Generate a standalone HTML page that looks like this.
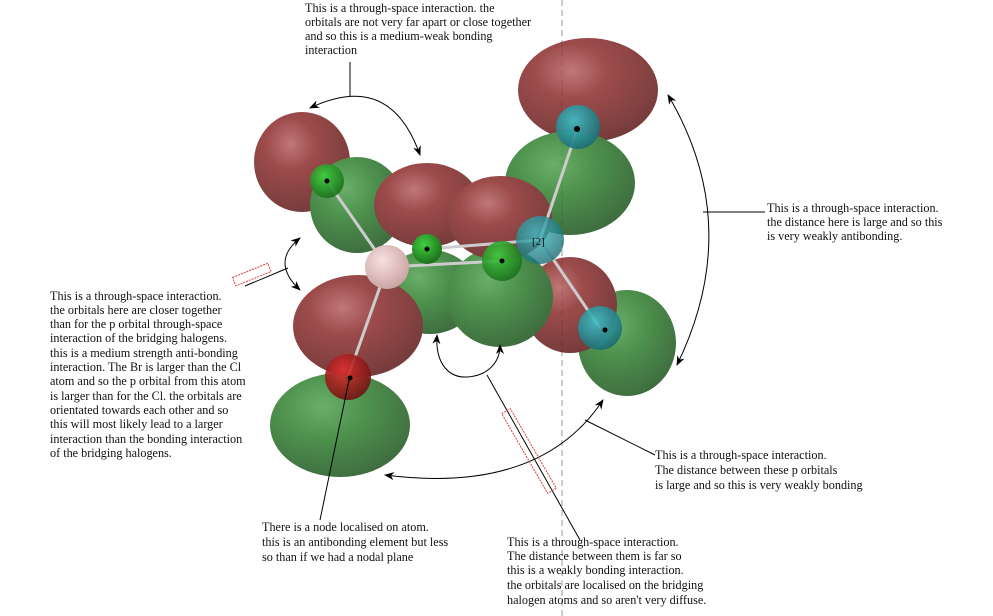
<!DOCTYPE html>
<html><head><meta charset="utf-8"><style>
html,body{margin:0;padding:0;background:#fff;}
svg{display:block;}
text{font-family:"Liberation Serif",serif;font-size:12.2px;fill:#111;}
</style></head><body>
<svg width="993" height="616" viewBox="0 0 993 616" xmlns="http://www.w3.org/2000/svg">
<defs>
<radialGradient id="r" cx="0.38" cy="0.32" r="0.75">
<stop offset="0" stop-color="#b46060"/><stop offset="0.35" stop-color="#8c2c2c"/><stop offset="1" stop-color="#5a1818"/></radialGradient>
<radialGradient id="g" cx="0.38" cy="0.32" r="0.75">
<stop offset="0" stop-color="#4fa04f"/><stop offset="0.4" stop-color="#2f7f2f"/><stop offset="1" stop-color="#1c4f1c"/></radialGradient>
<radialGradient id="ga" cx="0.4" cy="0.35" r="0.7"><stop offset="0" stop-color="#3fd03f"/><stop offset="1" stop-color="#1a6a1a"/></radialGradient>
<radialGradient id="ca" cx="0.4" cy="0.35" r="0.7"><stop offset="0" stop-color="#40c0c8"/><stop offset="1" stop-color="#1a6870"/></radialGradient>
<radialGradient id="pa" cx="0.4" cy="0.35" r="0.7"><stop offset="0" stop-color="#f8e0e0"/><stop offset="1" stop-color="#c8a0a0"/></radialGradient>
<radialGradient id="ra" cx="0.4" cy="0.35" r="0.7"><stop offset="0" stop-color="#e03030"/><stop offset="1" stop-color="#6a1010"/></radialGradient>
<marker id="ah" markerWidth="10" markerHeight="8" refX="9" refY="4" orient="auto-start-reverse" markerUnits="userSpaceOnUse"><path d="M0,0 L10,4 L0,8 L3,4 z" fill="#000"/></marker>
</defs>
<line x1="562" y1="0" x2="562" y2="616" stroke="#999" stroke-dasharray="6,4" stroke-width="1"/>
<g opacity="0.85">
<ellipse cx="588" cy="90" rx="70" ry="52" fill="url(#r)"/>
<ellipse cx="302" cy="162" rx="48" ry="50" fill="url(#r)"/>
<ellipse cx="570" cy="183" rx="65" ry="52" fill="url(#g)"/>
<ellipse cx="357" cy="205" rx="47" ry="48" fill="url(#g)"/>
<ellipse cx="340" cy="425" rx="70" ry="52" fill="url(#g)"/>
<ellipse cx="627" cy="343" rx="49" ry="53" fill="url(#g)"/>
<ellipse cx="570" cy="305" rx="47" ry="48" fill="url(#r)"/>
<ellipse cx="430" cy="292" rx="48" ry="42" fill="url(#g)"/>
<ellipse cx="500" cy="297" rx="53" ry="50" fill="url(#g)"/>
<ellipse cx="358" cy="326" rx="65" ry="51" fill="url(#r)"/>
<ellipse cx="427" cy="205" rx="53" ry="42" fill="url(#r)"/>
<ellipse cx="500" cy="218" rx="52" ry="42" fill="url(#r)"/>
</g>
<g stroke="#ccc" stroke-width="3">
<line x1="327" y1="181" x2="387" y2="267"/><line x1="387" y1="267" x2="348" y2="377"/>
<line x1="387" y1="267" x2="502" y2="261"/><line x1="427" y1="249" x2="540" y2="240"/>
<line x1="578" y1="127" x2="540" y2="240"/><line x1="540" y1="240" x2="600" y2="328"/>
</g>
<circle cx="578" cy="127" r="22" fill="url(#ca)" opacity="0.9"/>
<circle cx="540" cy="240" r="24" fill="url(#ca)" opacity="0.8"/>
<circle cx="600" cy="328" r="22" fill="url(#ca)" opacity="0.9"/>
<circle cx="327" cy="181" r="17" fill="url(#ga)" opacity="0.9"/>
<circle cx="427" cy="249" r="15" fill="url(#ga)"/>
<circle cx="502" cy="261" r="20" fill="url(#ga)" opacity="0.9"/>
<circle cx="387" cy="267" r="22" fill="url(#pa)"/>
<circle cx="348" cy="377" r="23" fill="url(#ra)" opacity="0.9"/>
<g fill="#000"><circle cx="327" cy="181" r="2.5"/><circle cx="427" cy="249" r="2.5"/><circle cx="502" cy="261" r="2.5"/><circle cx="577" cy="129" r="3"/><circle cx="605" cy="330" r="2.5"/><circle cx="350" cy="378" r="2.5"/></g>
<text x="532" y="245" style="font-size:11px">[2]</text>
<g fill="none" stroke="#000" stroke-width="1">
<line x1="350" y1="62" x2="350" y2="96"/>
<path d="M310,108 Q390,70 420,155" marker-start="url(#ah)" marker-end="url(#ah)"/>
<path d="M300,238 Q270,262 300,290" marker-start="url(#ah)" marker-end="url(#ah)"/>
<line x1="245" y1="286" x2="288" y2="268"/>
<path d="M668,95 Q745,225 677,365" marker-start="url(#ah)" marker-end="url(#ah)"/>
<line x1="703" y1="212" x2="765" y2="212"/>
<path d="M437,335 C435,365 450,378 467,377 C485,376 500,365 500,345" marker-start="url(#ah)" marker-end="url(#ah)"/>
<line x1="487" y1="375" x2="580" y2="540"/>
<path d="M385,475 Q540,495 603,400" marker-start="url(#ah)" marker-end="url(#ah)"/>
<line x1="585" y1="420" x2="655" y2="455"/>
<line x1="320" y1="520" x2="349" y2="380"/>
</g>
<rect x="233" y="270" width="38" height="9" fill="none" stroke="#e04040" stroke-dasharray="2,1" transform="rotate(-22 252 275)"/>
<rect x="524" y="405" width="10" height="92" fill="none" stroke="#e04040" stroke-dasharray="2,1" transform="rotate(-30 529 451)"/>
<text x="305" y="12">This is a through-space interaction. the</text>
<text x="305" y="26">orbitals are not very far apart or close together</text>
<text x="305" y="40">and so this is a medium-weak bonding</text>
<text x="305" y="54">interaction</text>
<text x="767" y="212">This is a through-space interaction.</text>
<text x="767" y="226">the distance here is large and so this</text>
<text x="767" y="240">is very weakly antibonding.</text>
<g>
<text x="50" y="300">This is a through-space interaction.</text>
<text x="50" y="314">the orbitals here are closer together</text>
<text x="50" y="328">than for the p orbital through-space</text>
<text x="50" y="342">interaction of the bridging halogens.</text>
<text x="50" y="357">this is a medium strength anti-bonding</text>
<text x="50" y="371">interaction. The Br is larger than the Cl</text>
<text x="50" y="385">atom and so the p orbital from this atom</text>
<text x="50" y="400">is larger than for the Cl. the orbitals are</text>
<text x="50" y="414">orientated towards each other and so</text>
<text x="50" y="428">this will most likely lead to a larger</text>
<text x="50" y="443">interaction than the bonding interaction</text>
<text x="50" y="457">of the bridging halogens.</text>
</g>
<text x="655" y="459">This is a through-space interaction.</text>
<text x="655" y="474">The distance between these p orbitals</text>
<text x="655" y="489">is large and so this is very weakly bonding</text>
<text x="262" y="531">There is a node localised on atom.</text>
<text x="262" y="546">this is an antibonding element but less</text>
<text x="262" y="561">so than if we had a nodal plane</text>
<text x="507" y="546">This is a through-space interaction.</text>
<text x="507" y="560">The distance between them is far so</text>
<text x="507" y="574">this is a weakly bonding interaction.</text>
<text x="507" y="589">the orbitals are localised on the bridging</text>
<text x="507" y="604">halogen atoms and so aren't very diffuse.</text>
</svg>
</body></html>
